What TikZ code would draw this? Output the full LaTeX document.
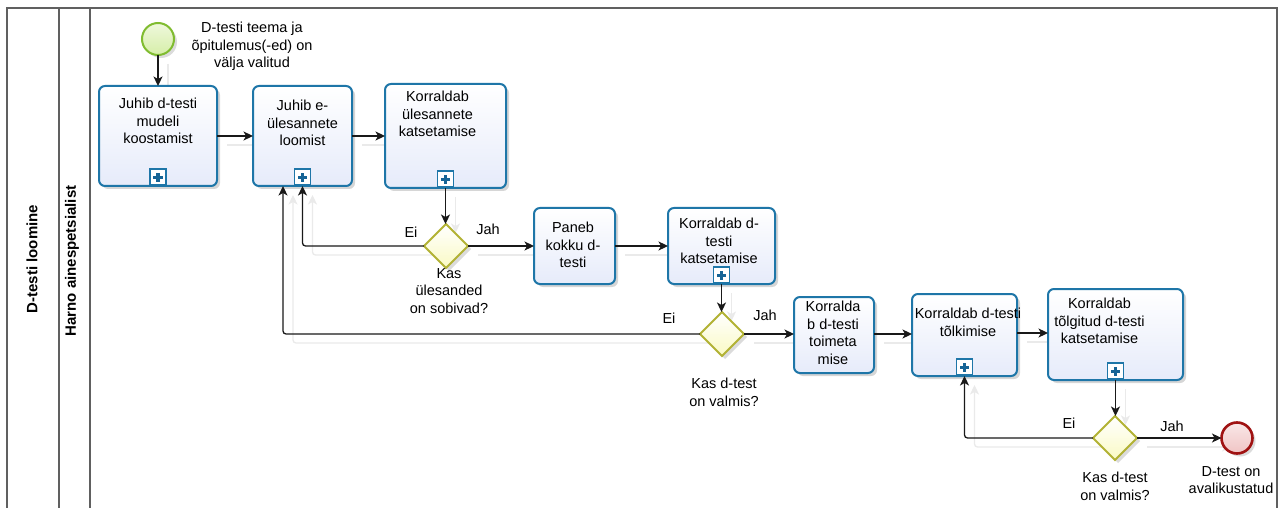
\documentclass[tikz,border=0pt]{standalone}
\usepackage{fontspec}
\setmainfont{Liberation Sans}
\usetikzlibrary{arrows.meta,shapes.geometric,shadows,calc}

\definecolor{taskblue}{RGB}{30,118,168}
\definecolor{taskfill}{RGB}{230,235,250}
\definecolor{markblue}{RGB}{22,100,150}
\definecolor{gateline}{RGB}{178,178,52}
\definecolor{gatefill}{RGB}{250,250,196}
\definecolor{startline}{RGB}{128,188,48}
\definecolor{startfill}{RGB}{214,238,168}
\definecolor{endline}{RGB}{160,18,18}
\definecolor{endfill}{RGB}{240,196,196}
\definecolor{flowcol}{RGB}{25,25,25}
\definecolor{ghostcol}{RGB}{234,234,234}
\definecolor{poolcol}{RGB}{96,96,96}

\pgfdeclarelayer{background}
\pgfsetlayers{background,main}

% all connectors of the process, drawn once as a faint offset copy and once for real
\newcommand\processflows[1]{%
  \draw[#1] (se.south) -- (t1.north);
  \draw[#1] (t1.east) -- (t1.east -| t2.west);
  \draw[#1] (t2.east) -- (t2.east -| t3.west);
  \draw[#1] (t3.south) -- (t3.south |- g1.north);
  \draw[#1] (g1.east) -- (g1.east -| t4.west);
  \draw[#1] (g1.west) -| (t2.south);
  \draw[#1] (t4.east |- g1) -- (t5.west |- g1);
  \draw[#1] (t5.south) -- (t5.south |- g2.north);
  \draw[#1] (g2.east) -- (g2.east -| t6.west);
  \draw[#1] (g2.west) -| ([xshift=-19.5pt]t2.south);
  \draw[#1] (t6.east |- g2) -- (t7.west |- g2);
  \draw[#1] ([yshift=2pt]t7.east) -- ([yshift=2pt]t7.east -| t8.west);
  \draw[#1] (t8.south) -- (t8.south |- g3.north);
  \draw[#1] (g3.east) -- (ee.west);
  \draw[#1] (g3.west) -| (t7.south);
}

\begin{document}
\begin{tikzpicture}[x=1pt,y=-1pt,
  font=\fontsize{14.5}{17.5}\selectfont,
  >={Stealth[length=9.5pt,width=9pt,inset=2.5pt]},
  flow/.style={draw=flowcol, line width=1.3pt, ->, rounded corners=3pt},
  ghost/.style={draw=ghostcol, line width=1.3pt, ->, rounded corners=3pt,
    transform canvas={shift={(10pt,-9pt)}}},
  poolline/.style={draw=poolcol, line width=1.3pt},
  task/.style={rectangle, rounded corners=6pt, draw=taskblue, line width=2pt,
    top color=white, bottom color=taskfill, inner sep=0pt, outer sep=0pt,
    drop shadow={shadow xshift=3pt, shadow yshift=-3pt, opacity=0.16, fill=black}},
  tasktext/.style={anchor=north, align=center, inner sep=0pt},
  plusmark/.style={rectangle, draw=taskblue, line width=1.6pt, fill=white,
    minimum size=16pt, inner sep=0pt, anchor=south,
    path picture={
      \fill[markblue] ([xshift=-4.6pt,yshift=-1.6pt]path picture bounding box.center)
        rectangle ([xshift=4.6pt,yshift=1.6pt]path picture bounding box.center);
      \fill[markblue] ([xshift=-1.6pt,yshift=-4.6pt]path picture bounding box.center)
        rectangle ([xshift=1.6pt,yshift=4.6pt]path picture bounding box.center);}},
  gate/.style={diamond, aspect=1, draw=gateline, line width=2pt, minimum size=44pt,
    inner sep=0pt, outer sep=0pt, top color=white, bottom color=gatefill,
    drop shadow={shadow xshift=3pt, shadow yshift=-3pt, opacity=0.14, fill=black}},
  startev/.style={circle, draw=startline, line width=2pt, minimum size=32pt,
    inner sep=0pt, outer sep=0pt, top color=white!60!startfill, bottom color=startfill,
    drop shadow={shadow xshift=3pt, shadow yshift=-3pt, opacity=0.14, fill=black}},
  endev/.style={circle, draw=endline, line width=2.6pt, minimum size=31pt,
    inner sep=0pt, outer sep=0pt, top color=white!60!endfill, bottom color=endfill,
    drop shadow={shadow xshift=3pt, shadow yshift=-3pt, opacity=0.14, fill=black}},
  lanetext/.style={rotate=90, font=\fontsize{15}{18}\bfseries\selectfont, inner sep=0pt},
  txt/.style={align=center, inner sep=0pt},
]
\useasboundingbox (0,0) rectangle (1286,508);

% pool and lane frame
\draw[poolline] (7,508) -- (7,8) -- (1277,8) -- (1277,508);
\draw[poolline] (59,8) -- (59,508);
\draw[poolline] (90,8) -- (90,508);
\node[lanetext] (pool) at (32,259) {D-testi loomine};
\node[lanetext] (lane) at (72,261) {Harno ainespetsialist};

% events
\node[startev] (se) at (158,39) {};
\node[endev] (ee) at (1237,438) {};

% tasks
\node[task, minimum width=118pt, minimum height=100pt] (t1) at (158,136) {};
\node[task, minimum width=99pt,  minimum height=100pt] (t2) at (302.5,136) {};
\node[task, minimum width=121pt, minimum height=104pt] (t3) at (445.5,136) {};
\node[task, minimum width=81pt,  minimum height=76pt]  (t4) at (574.5,246) {};
\node[task, minimum width=107pt, minimum height=76pt]  (t5) at (721.5,246) {};
\node[task, minimum width=80pt,  minimum height=76pt]  (t6) at (834,335) {};
\node[task, minimum width=105pt, minimum height=82pt]  (t7) at (964.5,335) {};
\node[task, minimum width=135pt, minimum height=91pt]  (t8) at (1115.5,334.5) {};

% sub-process markers
\node[plusmark] (t1m) at (t1.south) {};
\node[plusmark] (t2m) at (t2.south) {};
\node[plusmark] (t3m) at (t3.south) {};
\node[plusmark] (t5m) at (t5.south) {};
\node[plusmark] (t7m) at (t7.south) {};
\node[plusmark] (t8m) at (t8.south) {};

% task texts
\node[tasktext] (t1x) at ($(t1.north)+(0,12)$) {Juhib d-testi\\mudeli\\koostamist};
\node[tasktext] (t2x) at ($(t2.north)+(0,14)$) {Juhib e-\\ülesannete\\loomist};
\node[tasktext] (t3x) at ($(t3.north)+(-8,7)$) {Korraldab\\ülesannete\\katsetamise};
\node[tasktext] (t4x) at ($(t4.north)+(-1.5,14)$) {Paneb\\kokku d-\\testi};
\node[tasktext] (t5x) at ($(t5.north)+(-2.5,10)$) {Korraldab d-\\testi\\katsetamise};
\node[tasktext] (t6x) at ($(t6.north)+(-1,4)$) {Korralda\\b d-testi\\toimeta\\mise};
\node[tasktext] (t7x) at ($(t7.north)+(3.5,14)$) {Korraldab d-testi\\tõlkimise};
\node[tasktext] (t8x) at ($(t8.north)+(-16,9)$) {Korraldab\\tõlgitud d-testi\\katsetamise};

% gateways
\node[gate] (g1) at (446,246) {};
\node[gate] (g2) at (722,334) {};
\node[gate] (g3) at (1115,438) {};

% connectors: faint offset copies behind everything, then the real ones
\begin{pgfonlayer}{background}
  \fill[white] (0,0) rectangle (1286,508);
  \processflows{ghost}
\end{pgfonlayer}
\processflows{flow}

% event and gateway texts
\node[txt, anchor=north] (sel) at (252,22) {D-testi teema ja\\õpitulemus(-ed) on\\välja valitud};
\node[txt, anchor=north] (g1l) at (449,268) {Kas\\ülesanded\\on sobivad?};
\node[txt, anchor=north] (g2l) at (724,378) {Kas d-test\\on valmis?};
\node[txt, anchor=north] (g3l) at (1115,472) {Kas d-test\\on valmis?};
\node[txt, anchor=north] (eel) at (1231,466) {D-test on\\avalikustatud};

% branch labels
\node[txt] (g1no)  at (411,232) {Ei};
\node[txt] (g1yes) at (488,229) {Jah};
\node[txt] (g2no)  at (669,318) {Ei};
\node[txt] (g2yes) at (765,315) {Jah};
\node[txt] (g3no)  at (1069,423) {Ei};
\node[txt] (g3yes) at (1172,426) {Jah};
\end{tikzpicture}
\end{document}
